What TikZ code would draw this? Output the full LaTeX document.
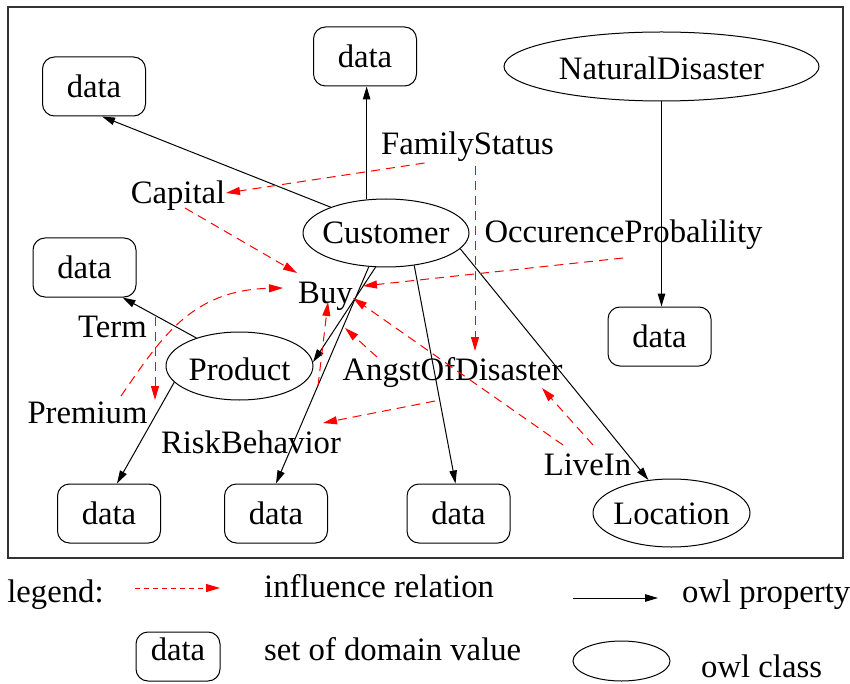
\documentclass[tikz,border=0pt]{standalone}
\usepackage{fontspec}
\setmainfont{Liberation Serif}
\usetikzlibrary{arrows.meta,shapes.geometric}
% zero-size label so the ellipse size comes only from its minimum size;
% the optional argument is the drop of the baseline below the centre
\newcommand{\clsname}[2][11pt]{\makebox[0pt]{\raisebox{-#1}[0pt][0pt]{#2}}}
\begin{document}
\begin{tikzpicture}[x=1pt,y=-1pt,
  every node/.style={font=\fontsize{32.7pt}{39pt}\selectfont, inner sep=0pt},
  databox/.style={draw, line width=1pt, rounded corners=12pt,
                  minimum width=103pt, minimum height=59pt},
  classnode/.style={draw, ellipse, line width=1pt},
  attr/.style={anchor=base},
  prop/.style={line width=1pt, -{Triangle[length=13pt,width=7.5pt]}},
  infl/.style={red, line width=1pt, dash pattern=on 9pt off 6pt,
               -{Triangle[length=14pt,width=8pt]}}
]
\useasboundingbox (0,0) rectangle (850,684);
\draw[line width=1.2pt, black!80] (8,7) rectangle (843,558);

% owl classes
\node[classnode, minimum width=315pt, minimum height=69pt] (nat)  at (661.5,66.5) {\clsname[13.5pt]{NaturalDisaster}};
\node[classnode, minimum width=166pt, minimum height=68pt] (cust) at (386,233)    {\clsname[10.5pt]{Customer}};
\node[classnode, minimum width=147pt, minimum height=68pt] (prod) at (239.5,366)  {\clsname[14pt]{Product}};
\node[classnode, minimum width=157pt, minimum height=68pt] (loc)  at (671.5,513)  {\clsname[11pt]{Location}};

% sets of domain values
\node[databox] (d1) at (94,86.5)    {data};
\node[databox] (d2) at (365,56.5)   {data};
\node[databox] (d3) at (84.5,267.5) {data};
\node[databox] (d4) at (659.5,336.5){data};
\node[databox] (d5) at (109,513.5)  {data};
\node[databox] (d6) at (276,513.5)  {data};
\node[databox] (d7) at (458.5,513.5){data};

% attribute names
\node[attr] (cap)   at (178,204)   {Capital};
\node[attr] (fam)   at (467.5,155) {FamilyStatus};
\node[attr] (occ)   at (623.5,243) {OccurenceProbalility};
\node[attr] (buy)   at (325.5,303) {Buy};
\node[attr] (term)  at (112.5,337) {Term};
\node[attr] (angst) at (452.5,380) {AngstOfDisaster};
\node[attr] (prem)  at (87.5,423)  {Premium};
\node[attr] (risk)  at (251,453)   {RiskBehavior};
\node[attr] (live)  at (587.5,475) {LiveIn};

% owl properties
\draw[prop] (cust.155) -- ([xshift=8pt]d1.south);
\draw[prop] (cust.120) -- (cust.120 |- d2.south);
\draw[prop] (nat.south) -- (nat.south |- d4.north);
\draw[prop] (cust.253) -- (prod.3);
\draw[prop] (cust.243) -- (d6.north);
\draw[prop] (cust.311) -- ([xshift=-3pt]d7.north);
\draw[prop] (cust.348) -- (loc.125);
\draw[prop] (prod.147) -- ([xshift=38pt]d3.south);
\draw[prop] (prod.194) -- ([xshift=8pt]d5.north);

% influence relations
\draw[infl] ([xshift=-43pt,yshift=-8pt]fam.base) -- ([xshift=48pt,yshift=11pt]cap.base);
\draw[infl] ([xshift=7.5pt,yshift=-11pt]fam.base) -- ([xshift=22.5pt,yshift=29pt]angst.base);
\draw[infl] ([xshift=7pt,yshift=-4pt]cap.base) -- ([xshift=-28.5pt,yshift=30pt]buy.base);
\draw[infl] ([xshift=-0.5pt,yshift=-15pt]occ.base) -- ([xshift=37.5pt,yshift=17pt]buy.base);
\draw[infl] ([xshift=33.5pt,yshift=27pt]prem.base) .. controls (160,340) and (190,290) .. ([xshift=-42.5pt,yshift=15pt]buy.base);
\draw[infl] ([xshift=42.5pt,yshift=20pt]term.base) -- ([xshift=67.5pt,yshift=23pt]prem.base);
\draw[infl] ([xshift=67pt,yshift=67pt]risk.base) -- ([xshift=2.5pt,yshift=1pt]buy.base);
\draw[infl] ([xshift=-75.5pt,yshift=23pt]angst.base) -- ([xshift=19.5pt,yshift=-25pt]buy.base);
\draw[infl] ([xshift=-24.5pt,yshift=30pt]live.base) -- ([xshift=27.5pt,yshift=5pt]buy.base);
\draw[infl] ([xshift=5.5pt,yshift=30pt]live.base) -- ([xshift=89.5pt,yshift=-8pt]angst.base);
\draw[infl] ([xshift=-17.5pt,yshift=-21pt]angst.base) -- ([xshift=72pt,yshift=30pt]risk.base);

% legend
\node[attr] (lgtitle) at (55.5,602) {legend:};
\coordinate (lgA) at (135,588);
\coordinate (lgB) at (220,588);
\draw[infl, dash pattern=on 5pt off 4pt] (lgA) -- (lgB);
\node[anchor=base west] (lginfl) at (264,597) {influence relation};
\coordinate (lgC) at (573,598);
\coordinate (lgD) at (658,598);
\draw[prop] (lgC) -- (lgD);
\node[anchor=base west] (lgprop) at (682,602) {owl property};
\node[databox, minimum width=84pt, minimum height=49pt] (lgbox) at (178,656.5) {};
\node[attr] (lgdata) at (178,660) {data};
\node[anchor=base west] (lgdom) at (264,660) {set of domain value};
\node[classnode, minimum width=97pt, minimum height=40pt] (lgcls) at (621.5,661) {};
\node[anchor=base west] (lgclass) at (701,677) {owl class};
\end{tikzpicture}
\end{document}
